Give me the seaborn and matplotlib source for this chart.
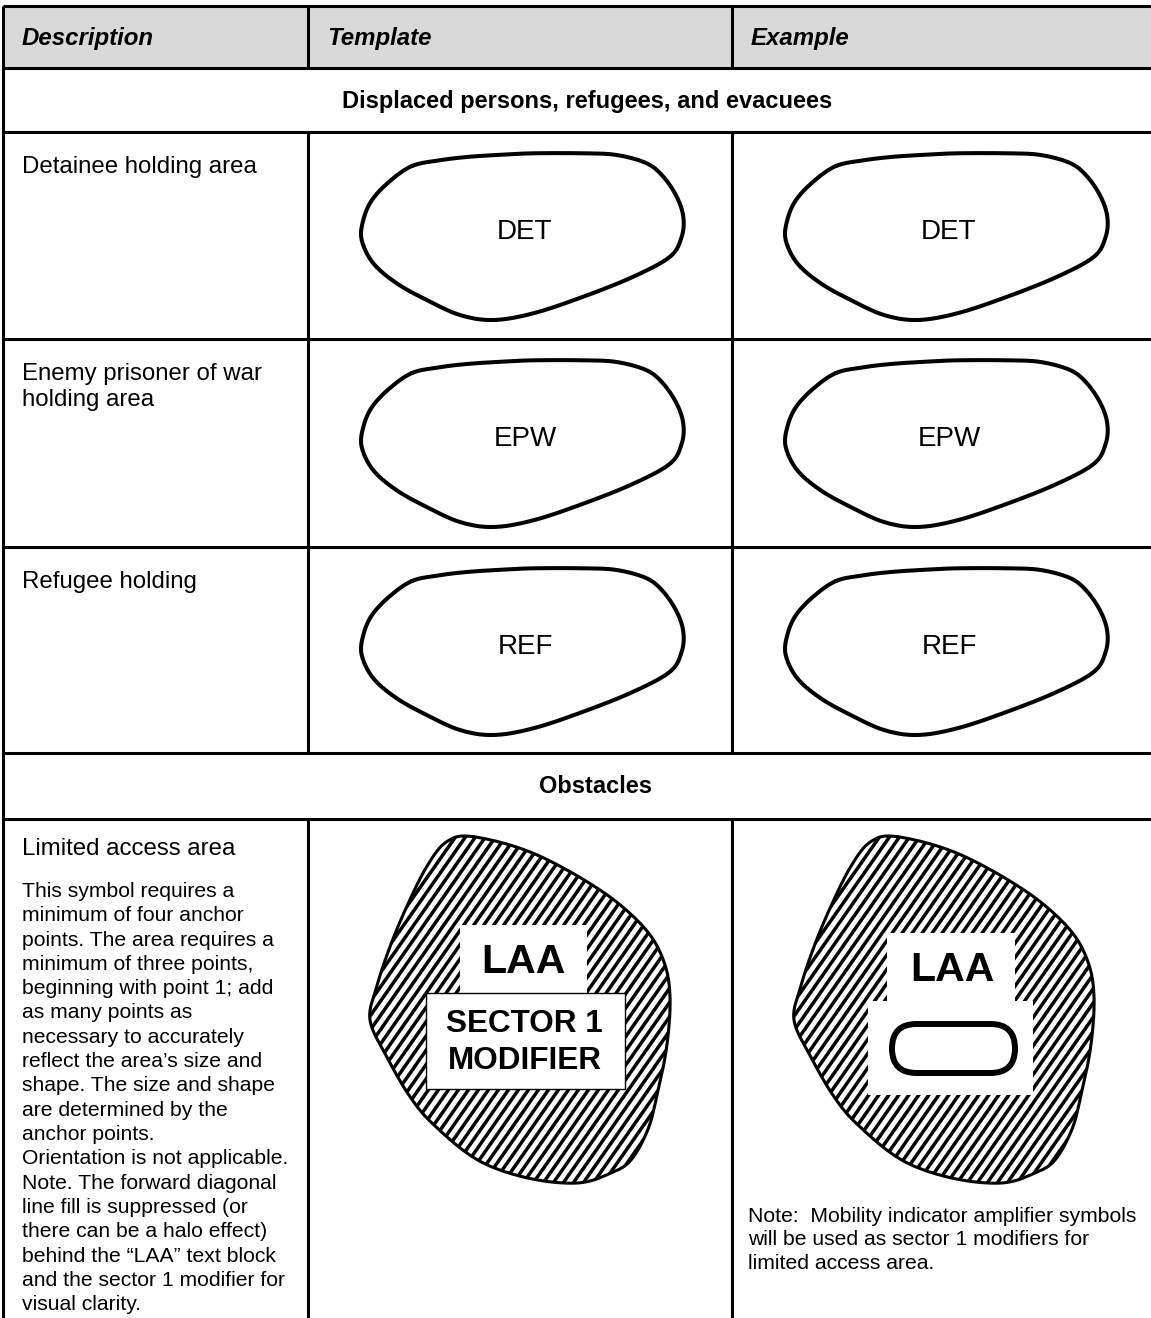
import numpy as np
import matplotlib
matplotlib.use("Agg")
import matplotlib.pyplot as plt
import seaborn as sns
from matplotlib.path import Path
from matplotlib.patches import PathPatch, Rectangle, FancyBboxPatch
from matplotlib.collections import LineCollection

# --- table content ---
column_headers = ["Description", "Template", "Example"]
section_titles = ["Displaced persons, refugees, and evacuees", "Obstacles"]
holding_descriptions = [["Detainee holding area"],
                        ["Enemy prisoner of war", "holding area"],
                        ["Refugee holding"]]
holding_labels = ["DET", "EPW", "REF"]
laa_title = "Limited access area"
laa_notes = [
    "This symbol requires a",
    "minimum of four anchor",
    "points. The area requires a",
    "minimum of three points,",
    "beginning with point 1; add",
    "as many points as",
    "necessary to accurately",
    "reflect the area\u2019s size and",
    "shape. The size and shape",
    "are determined by the",
    "anchor points.",
    "Orientation is not applicable.",
    "Note. The forward diagonal",
    "line fill is suppressed (or",
    "there can be a halo effect)",
    "behind the \u201cLAA\u201d text block",
    "and the sector 1 modifier for",
    "visual clarity.",
]
laa_label = "LAA"
sector_labels = ["SECTOR 1", "MODIFIER"]
example_note = [
    "Note:  Mobility indicator amplifier symbols",
    "will be used as sector 1 modifiers for",
    "limited access area.",
]

# outline of the holding area symbol (relative to the cell's top-left corner)
holding_outline = [(104, 34), (130, 28.5), (158.7, 25), (192, 22.8), (225.3, 21.3),
                   (275.3, 21.3), (308.7, 23), (338.7, 31.3), (355.3, 44.7),
                   (368.7, 64.7), (375.3, 84.7), (373.7, 104.7), (362, 124.7),
                   (325.3, 144.7), (275.3, 164.7), (225.3, 181.3), (185.3, 188),
                   (152, 183), (118.7, 168), (88.7, 151.3), (65.3, 131.3),
                   (53.7, 108), (55.3, 88), (64, 68), (82, 49)]
# outline of the limited access area symbol
laa_outline = [(165.3, 17.7), (138.7, 22.7), (118.7, 47.7), (98.7, 87.7), (82, 127.7),
               (68.7, 167.7), (62, 201), (78.7, 237.7), (102, 277.7), (126, 306),
               (169.7, 341), (219.7, 359), (269.7, 364), (303, 354), (323, 341),
               (339.7, 311), (348.7, 277.7), (358.7, 227.7), (362, 177.7),
               (355.3, 141), (335.3, 107.7), (292, 71), (225.3, 34.3)]

# --- layout (pixels) ---
W, H = 1151, 1318
col_x = [3, 308, 732, 1160]
row_y = [6, 68, 132, 339, 547, 753, 819, 1330]
LW = 2.2


def closed_curve(pts, n=20):
    # Catmull-Rom through the outline points, closed
    p = np.asarray(pts, float)
    m = len(p)
    t = np.linspace(0, 1, n, endpoint=False)[:, None]
    segs = []
    for i in range(m):
        p0, p1, p2, p3 = p[i - 1], p[i], p[(i + 1) % m], p[(i + 2) % m]
        segs.append(0.5 * (2 * p1 + (-p0 + p2) * t
                           + (2 * p0 - 5 * p1 + 4 * p2 - p3) * t ** 2
                           + (-p0 + 3 * p1 - 3 * p2 + p3) * t ** 3))
    c = np.vstack(segs)
    return np.vstack([c, c[:1]])


def draw_holding(ax, x0, y0, label):
    c = closed_curve(holding_outline) + [x0, y0]
    ax.plot(c[:, 0], c[:, 1], color="black", lw=2.9, solid_joinstyle="round")
    ax.text(x0 + 217, y0 + 100, label, fontsize=20, ha="center", va="center")


def draw_laa(ax, x0, y0):
    c = closed_curve(laa_outline) + [x0, y0]
    patch = PathPatch(Path(c), facecolor="white", edgecolor="none", zorder=1)
    ax.add_patch(patch)
    # forward diagonal fill
    ang = np.deg2rad(55)
    top, bot = c[:, 1].min() - 5, c[:, 1].max() + 5
    dx = (bot - top) / np.tan(ang)
    starts = np.arange(c[:, 0].min() - dx - 10, c[:, 0].max() + 10, 10.0)
    lines = [[(s, bot), (s + dx, top)] for s in starts]
    lc = LineCollection(lines, colors="black", linewidths=2.5, zorder=2)
    ax.add_collection(lc)
    lc.set_clip_path(patch)
    return c


sns.set_theme(style="white")
plt.rcParams["font.family"] = ["Liberation Sans", "DejaVu Sans"]
plt.rcParams["text.color"] = "black"

fig = plt.figure(figsize=(W / 100, H / 100), dpi=100)
ax = fig.add_axes([0, 0, 1, 1])
ax.set_xlim(0, W)
ax.set_ylim(H, 0)
ax.axis("off")

# header shading
ax.add_patch(Rectangle((col_x[0], row_y[0]), col_x[3] - col_x[0], row_y[1] - row_y[0],
                       facecolor="#d9d9d9", edgecolor="none"))

# grid lines
ax.hlines(row_y[:7], col_x[0], col_x[3], color="black", lw=LW)
ax.vlines(col_x[0], row_y[0], row_y[7], color="black", lw=LW)
for j, (ya, yb) in enumerate(zip(row_y[:-1], row_y[1:])):
    if j in (1, 5):
        continue  # merged section rows
    ax.vlines(col_x[1:3], ya, yb, color="black", lw=LW)

# headers
for x, name in zip(col_x[:3], column_headers):
    ax.text(x + 19, 45, name, fontsize=17.3, fontweight="bold", style="italic",
            va="baseline")

# section titles
ax.text(587, 108, section_titles[0], fontsize=17, fontweight="bold",
        ha="center", va="baseline")
ax.text(596, 793, section_titles[1], fontsize=17, fontweight="bold",
        ha="center", va="baseline")

# holding area rows
for k in range(3):
    y0 = row_y[2 + k]
    for i, line in enumerate(holding_descriptions[k]):
        ax.text(22, y0 + 41 + 26 * i, line, fontsize=17.3, va="baseline")
    draw_holding(ax, col_x[1], y0, holding_labels[k])
    draw_holding(ax, col_x[2], y0, holding_labels[k])

# limited access area row
y0 = row_y[6]
ax.text(22, 855, laa_title, fontsize=17.3, va="baseline")
for i, line in enumerate(laa_notes):
    ax.text(22, 897 + 24.3 * i, line, fontsize=15.2, va="baseline")

# template symbol: halo behind LAA, boxed sector 1 modifier
c = draw_laa(ax, col_x[1], y0)
ax.add_patch(Rectangle((460, 925), 127, 68, facecolor="white", edgecolor="none", zorder=3))
ax.add_patch(Rectangle((426, 993), 199, 96, facecolor="white", edgecolor="black",
                       lw=1.0, zorder=3))
ax.plot(c[:, 0], c[:, 1], color="black", lw=2.2, solid_joinstyle="round", zorder=4)
ax.text(523, 962, laa_label, fontsize=29.5, fontweight="bold", ha="center",
        va="center", zorder=5)
ax.text(524, 1024, sector_labels[0], fontsize=22.7, fontweight="bold", ha="center",
        va="center", zorder=5)
ax.text(525, 1061, sector_labels[1], fontsize=22.7, fontweight="bold", ha="center",
        va="center", zorder=5)

# example symbol: halo behind LAA and the mobility indicator
c = draw_laa(ax, col_x[2], y0)
ax.add_patch(Rectangle((887, 933), 128, 69, facecolor="white", edgecolor="none", zorder=3))
ax.add_patch(Rectangle((868, 1001), 165, 94, facecolor="white", edgecolor="none", zorder=3))
ax.plot(c[:, 0], c[:, 1], color="black", lw=2.2, solid_joinstyle="round", zorder=4)
ax.text(952, 970, laa_label, fontsize=29.5, fontweight="bold", ha="center",
        va="center", zorder=5)
ax.add_patch(FancyBboxPatch((892, 1024), 123, 49,
                            boxstyle="round,pad=0,rounding_size=24.5",
                            facecolor="white", edgecolor="black", lw=4.3, zorder=5))

for i, line in enumerate(example_note):
    ax.text(748, 1222 + 23.3 * i, line, fontsize=15.2, va="baseline")

fig.savefig("out.png", dpi=100)
